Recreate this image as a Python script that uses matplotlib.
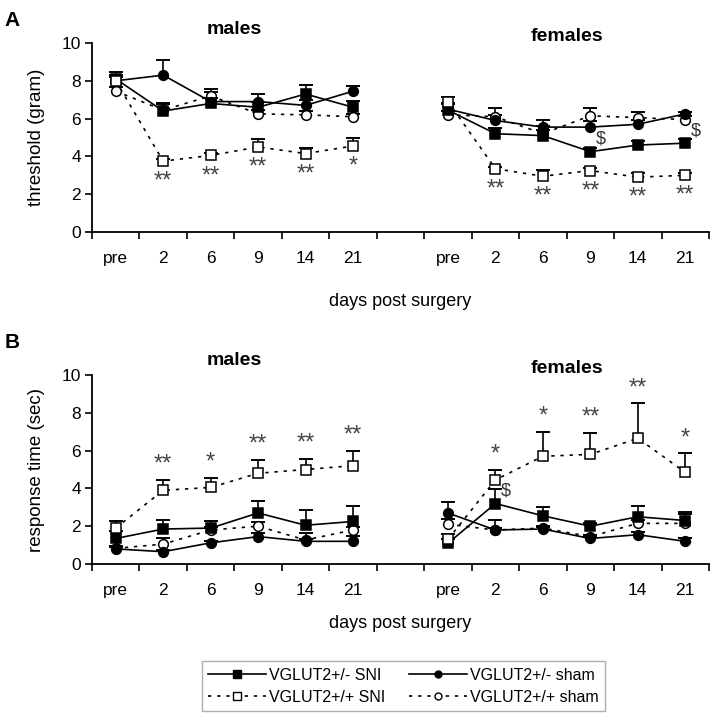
import numpy as np
import matplotlib.pyplot as plt
from matplotlib.lines import Line2D

plt.rcParams["font.family"] = ["Liberation Sans", "DejaVu Sans"]

# ======================================================
# Data
# ======================================================

days = ["pre", "2", "6", "9", "14", "21"]
groups = ["VGLUT2+/- SNI", "VGLUT2+/- sham", "VGLUT2+/+ SNI", "VGLUT2+/+ sham"]

# panel A: threshold (gram)
a_males_mean = {
    "VGLUT2+/- SNI": [8.1, 6.4, 6.8, 6.6, 7.3, 6.6],
    "VGLUT2+/- sham": [8.0, 8.3, 6.9, 6.9, 6.7, 7.45],
    "VGLUT2+/+ SNI": [8.0, 3.75, 4.05, 4.5, 4.15, 4.55],
    "VGLUT2+/+ sham": [7.45, 6.45, 7.2, 6.25, 6.2, 6.1],
}
a_males_err = {
    "VGLUT2+/- SNI": [0.35, 0.4, 0.3, 0.3, 0.5, 0.35],
    "VGLUT2+/- sham": [0.3, 0.8, 0.5, 0.4, 0.3, 0.25],
    "VGLUT2+/+ SNI": [0.2, 0.1, 0.15, 0.4, 0.3, 0.4],
    "VGLUT2+/+ sham": [0.2, 0.3, 0.35, 0.2, 0.2, 0.15],
}
a_females_mean = {
    "VGLUT2+/- SNI": [6.45, 5.2, 5.1, 4.25, 4.6, 4.7],
    "VGLUT2+/- sham": [6.5, 5.9, 5.55, 5.55, 5.7, 6.25],
    "VGLUT2+/+ SNI": [6.9, 3.35, 2.95, 3.25, 2.9, 3.0],
    "VGLUT2+/+ sham": [6.2, 6.1, 5.2, 6.15, 6.05, 5.95],
}
a_females_err = {
    "VGLUT2+/- SNI": [0.3, 0.3, 0.3, 0.2, 0.2, 0.2],
    "VGLUT2+/- sham": [0.3, 0.3, 0.4, 0.3, 0.25, 0.1],
    "VGLUT2+/+ SNI": [0.25, 0.1, 0.35, 0.15, 0.2, 0.1],
    "VGLUT2+/+ sham": [0.2, 0.45, 0.4, 0.4, 0.3, 0.2],
}

# panel B: response time (sec)
b_males_mean = {
    "VGLUT2+/- SNI": [1.35, 1.85, 1.9, 2.7, 2.05, 2.25],
    "VGLUT2+/- sham": [0.8, 0.65, 1.12, 1.45, 1.2, 1.2],
    "VGLUT2+/+ SNI": [1.9, 3.9, 4.05, 4.8, 5.0, 5.2],
    "VGLUT2+/+ sham": [0.83, 1.05, 1.8, 2.0, 1.27, 1.8],
}
b_males_err = {
    "VGLUT2+/- SNI": [0.4, 0.5, 0.35, 0.65, 0.8, 0.8],
    "VGLUT2+/- sham": [0.1, 0.1, 0.1, 0.2, 0.1, 0.3],
    "VGLUT2+/+ SNI": [0.4, 0.55, 0.5, 0.7, 0.55, 0.8],
    "VGLUT2+/+ sham": [0.1, 0.3, 0.15, 0.2, 0.35, 0.15],
}
b_females_mean = {
    "VGLUT2+/- SNI": [1.1, 3.2, 2.55, 2.0, 2.5, 2.3],
    "VGLUT2+/- sham": [2.7, 1.8, 1.85, 1.35, 1.55, 1.2],
    "VGLUT2+/+ SNI": [1.3, 4.45, 5.7, 5.8, 6.65, 4.85],
    "VGLUT2+/+ sham": [2.1, 1.8, 1.9, 1.45, 2.15, 2.15],
}
b_females_err = {
    "VGLUT2+/- SNI": [0.2, 0.75, 0.45, 0.15, 0.55, 0.45],
    "VGLUT2+/- sham": [0.6, 0.1, 0.1, 0.1, 0.15, 0.15],
    "VGLUT2+/+ SNI": [0.3, 0.55, 1.3, 1.15, 1.85, 1.0],
    "VGLUT2+/+ sham": [0.3, 0.55, 0.1, 0.1, 0.2, 0.5],
}

# significance marks (post-surgery days 2..21, VGLUT2+/+ SNI)
a_males_stars = ["**", "**", "**", "**", "*"]
a_females_stars = ["**", "**", "**", "**", "**"]
b_males_stars = ["**", "*", "**", "**", "**"]
b_females_stars = ["*", "*", "**", "**", "*"]

# "$" marks on VGLUT2+/- SNI: (panel, day)
dollar_marks = [("A", "9"), ("A", "21"), ("B", "2")]

# ======================================================
# Styles
# ======================================================

dotted = (0, (2, 3.5))
styles = {
    "VGLUT2+/- SNI": dict(marker="s", mfc="black", ls="-"),
    "VGLUT2+/- sham": dict(marker="o", mfc="black", ls="-"),
    "VGLUT2+/+ SNI": dict(marker="s", mfc="white", ls=dotted),
    "VGLUT2+/+ sham": dict(marker="o", mfc="white", ls=dotted),
}
# draw order (sham behind SNI)
draw_order = ["VGLUT2+/+ sham", "VGLUT2+/- sham", "VGLUT2+/- SNI", "VGLUT2+/+ SNI"]

x_males = np.arange(6)
x_females = np.arange(7, 13)

fig = plt.figure(figsize=(7.1, 7.2), dpi=100)
ax_a = fig.add_axes([92 / 710, 1 - 232 / 720, 617 / 710, 189 / 720])
ax_b = fig.add_axes([92 / 710, 1 - 564 / 720, 617 / 710, 189 / 720])


def draw_group(ax, x, mean, err):
    for g in draw_order:
        m = np.array(mean[g])
        e = np.array(err[g])
        st = styles[g]
        ax.vlines(x, m, m + e, color="black", lw=1.2, zorder=2)
        ax.plot(x, m + e, ls="none", marker="_", ms=10, mew=1.4,
                color="black", zorder=2)
        ax.plot(x, m, color="black", lw=1.2, ls=st["ls"], marker=st["marker"],
                ms=7 if st["marker"] == "o" else 6.5, mfc=st["mfc"],
                mec="black", mew=1.1, zorder=3)


def draw_stars(ax, x, mean, err, stars, below):
    m = np.array(mean["VGLUT2+/+ SNI"])[1:]
    e = np.array(err["VGLUT2+/+ SNI"])[1:]
    for xi, mi, ei, s in zip(x[1:], m, e, stars):
        if below:
            ax.annotate(s, (xi, mi), xytext=(0, -7), textcoords="offset points",
                        ha="center", va="top", fontsize=17, color="#444444")
        else:
            ax.annotate(s, (xi, mi + ei), xytext=(0, 3), textcoords="offset points",
                        ha="center", va="bottom", fontsize=17, color="#444444")


panels = {
    "A": (ax_a, a_males_mean, a_males_err, a_females_mean, a_females_err,
          a_males_stars, a_females_stars, True, "threshold (gram)", 19),
    "B": (ax_b, b_males_mean, b_males_err, b_females_mean, b_females_err,
          b_males_stars, b_females_stars, False, "response time (sec)", 12),
}

for name, (ax, mm, me, fm, fe, ms_, fs_, below, ylab, xpad) in panels.items():
    draw_group(ax, x_males, mm, me)
    draw_group(ax, x_females, fm, fe)
    draw_stars(ax, x_males, mm, me, ms_, below)
    draw_stars(ax, x_females, fm, fe, fs_, below)

    ax.set_xlim(-0.5, 12.5)
    ax.set_ylim(0, 10)
    ax.set_yticks(np.arange(0, 11, 2))
    ax.set_xticks(np.concatenate([x_males, x_females]))
    ax.set_xticklabels(days + days)
    ax.set_xticks(np.arange(-0.5, 13, 1), minor=True)
    ax.tick_params(axis="x", which="major", length=0, pad=14, labelsize=12.5)
    ax.tick_params(axis="x", which="minor", length=5, width=1.2, direction="out")
    ax.tick_params(axis="y", length=5, width=1.2, labelsize=12.5, pad=3)
    for s in ["top", "right"]:
        ax.spines[s].set_visible(False)
    for s in ["left", "bottom"]:
        ax.spines[s].set_linewidth(1.3)
    ax.set_ylabel(ylab, fontsize=13.5, labelpad=12)
    ax.set_xlabel("days post surgery", fontsize=13, labelpad=xpad)
    ax.text(2.5, 10.25 if name == "A" else 10.3, "males", ha="center",
            va="bottom", fontsize=14, fontweight="bold")
    ax.text(9.5, 9.9, "females", ha="center", va="bottom", fontsize=14,
            fontweight="bold")
    ax.patch.set_visible(False)

fig.text(0.006, 0.972, "A", fontsize=15, fontweight="bold", va="center")
fig.text(0.006, 0.525, "B", fontsize=15, fontweight="bold", va="center")

# "$" marks (females, VGLUT2+/- SNI)
for panel, day in dollar_marks:
    ax = ax_a if panel == "A" else ax_b
    mean = a_females_mean if panel == "A" else b_females_mean
    i = days.index(day)
    ax.annotate("$", (x_females[i], mean["VGLUT2+/- SNI"][i]), xytext=(4, 3),
                textcoords="offset points", ha="left", va="bottom",
                fontsize=13, color="#333333")

# ======================================================
# Legend
# ======================================================

legend_order = ["VGLUT2+/- SNI", "VGLUT2+/+ SNI", "VGLUT2+/- sham", "VGLUT2+/+ sham"]
handles = []
for g in legend_order:
    st = styles[g]
    handles.append(Line2D([], [], color="black", lw=1.2, ls=st["ls"],
                          marker=st["marker"], ms=6 if st["marker"] == "s" else 5,
                          mfc=st["mfc"], mec="black"))
leg = fig.legend(handles, legend_order, loc="center", bbox_to_anchor=(0.568, 0.047),
                 ncol=2, fontsize=11.5, frameon=True, fancybox=False,
                 edgecolor="#999999", handlelength=3.6, columnspacing=1.5,
                 handletextpad=0.2, labelspacing=0.45, borderpad=0.4)
leg.get_frame().set_linewidth(1.0)

fig.savefig("out.png", dpi=100)
